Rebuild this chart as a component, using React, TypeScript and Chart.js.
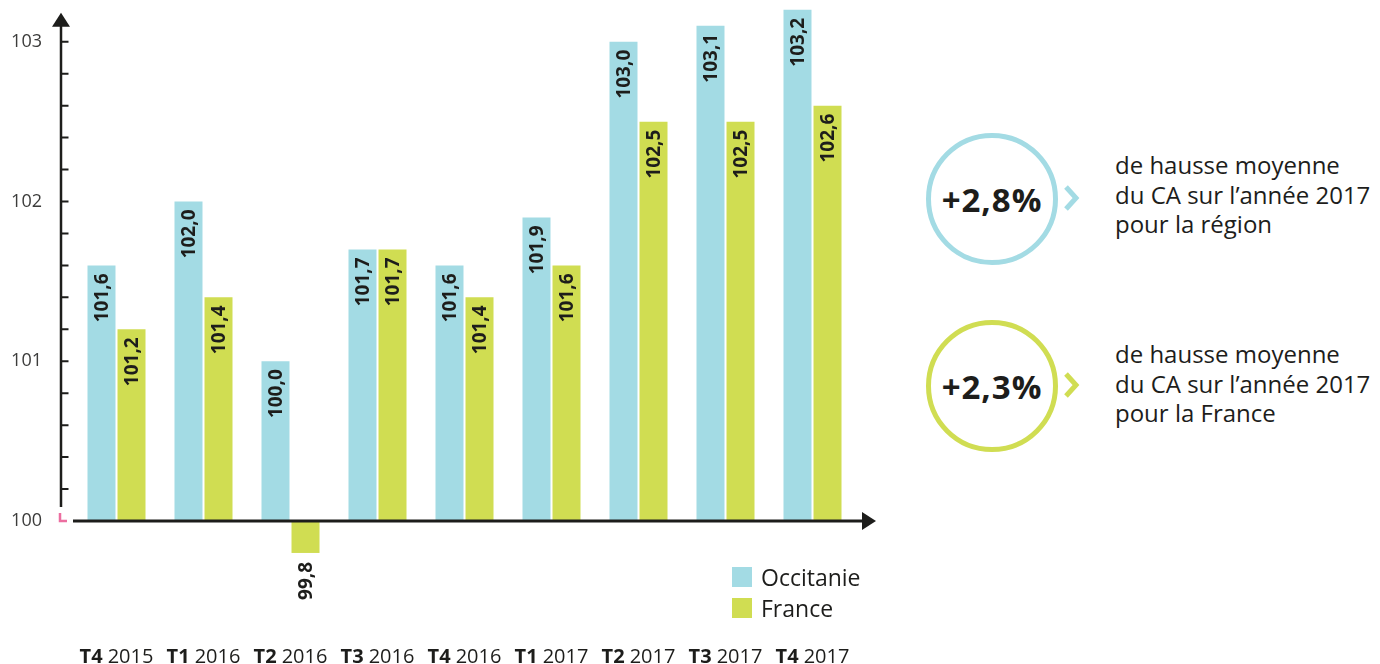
import React, { useEffect, useRef } from "react";
import { Chart, registerables } from "chart.js";

Chart.register(...registerables);

// ---------- data ----------
const quarters = ["T4", "T1", "T2", "T3", "T4", "T1", "T2", "T3", "T4"];
const years = ["2015", "2016", "2016", "2016", "2016", "2017", "2017", "2017", "2017"];
// bar heights as drawn in the picture
const occitanie = [101.6, 102.0, 101.0, 101.7, 101.6, 101.9, 103.0, 103.1, 103.2];
const france = [101.2, 101.4, 99.8, 101.7, 101.4, 101.6, 102.5, 102.5, 102.6];
// value labels as printed in the picture
const occitanieLabels = ["101,6", "102,0", "100,0", "101,7", "101,6", "101,9", "103,0", "103,1", "103,2"];
const franceLabels = ["101,2", "101,4", "99,8", "101,7", "101,4", "101,6", "102,5", "102,5", "102,6"];
const seriesNames = ["Occitanie", "France"];
const yTickLabels = [100, 101, 102, 103];
const yMinorStep = 0.2;
const baseValue = 100;
const yMin = 100;
const yMax = 103.2;
const highlightValues = ["+2,8%", "+2,3%"];
const highlightLine1 = ["de hausse moyenne", "de hausse moyenne"];
const highlightLine2 = ["du CA sur l’année 2017", "du CA sur l’année 2017"];
const highlightLine3 = ["pour la région", "pour la France"];

// ---------- style ----------
const BLUE = "#a3dbe4";
const GREEN = "#d0dd52";
const INK = "#1d1d1b";
const PINK = "#ec6ea0";
const FONT = "'Open Sans', sans-serif";
const seriesColors = [BLUE, GREEN];
const seriesLabels = [occitanieLabels, franceLabels];
const CANVAS_SHIFT = 32;

const axesPlugin = {
  id: "axesArrows",
  afterDatasetsDraw(chart: any) {
    const { ctx, chartArea, scales } = chart;
    const y = scales.y;
    const y0 = y.getPixelForValue(baseValue);
    const ax = chartArea.left - 12;
    ctx.save();
    ctx.strokeStyle = INK;
    ctx.fillStyle = INK;
    // vertical axis
    ctx.lineWidth = 2.5;
    ctx.beginPath();
    ctx.moveTo(ax, y0 - 14);
    ctx.lineTo(ax, chartArea.top + 14);
    ctx.stroke();
    ctx.beginPath();
    ctx.moveTo(ax, chartArea.top + 3);
    ctx.lineTo(ax - 9, chartArea.top + 17);
    ctx.lineTo(ax + 9, chartArea.top + 17);
    ctx.closePath();
    ctx.fill();
    // minor ticks
    ctx.lineWidth = 2;
    ctx.beginPath();
    y.ticks.forEach((t: any) => {
      if (t.value > baseValue + 1e-6 && t.value <= yTickLabels[yTickLabels.length - 1] + 1e-6) {
        const p = y.getPixelForValue(t.value);
        ctx.moveTo(ax, p);
        ctx.lineTo(ax + 7.5, p);
      }
    });
    ctx.stroke();
    // pink corner at origin
    ctx.strokeStyle = PINK;
    ctx.lineWidth = 2.5;
    ctx.beginPath();
    ctx.moveTo(ax - 1, y0 - 8);
    ctx.lineTo(ax - 1, y0);
    ctx.lineTo(ax + 6, y0);
    ctx.stroke();
    // horizontal axis
    ctx.strokeStyle = INK;
    ctx.lineWidth = 3;
    ctx.beginPath();
    ctx.moveTo(chartArea.left, y0);
    ctx.lineTo(chartArea.right + 8, y0);
    ctx.stroke();
    ctx.beginPath();
    ctx.moveTo(chartArea.right + 20, y0);
    ctx.lineTo(chartArea.right + 6, y0 - 9);
    ctx.lineTo(chartArea.right + 6, y0 + 9);
    ctx.closePath();
    ctx.fill();
    ctx.restore();
  },
};

const labelsPlugin = {
  id: "valueLabels",
  afterDatasetsDraw(chart: any) {
    const { ctx, scales } = chart;
    const y = scales.y;
    ctx.save();
    ctx.fillStyle = INK;
    ctx.font = `700 19px ${FONT}`;
    ctx.textAlign = "right";
    ctx.textBaseline = "middle";
    chart.data.datasets.forEach((ds: any, i: number) => {
      const meta = chart.getDatasetMeta(i);
      meta.data.forEach((el: any, j: number) => {
        const v = ds.data[j];
        const py = y.getPixelForValue(v);
        const anchor = v >= baseValue ? py + 8 : py + 9;
        ctx.save();
        ctx.translate(el.x + 1, anchor);
        ctx.rotate(-Math.PI / 2);
        ctx.fillText(seriesLabels[i][j], 0, 0);
        ctx.restore();
      });
    });
    ctx.restore();
  },
};

const xLabelsPlugin = {
  id: "xLabels",
  afterDraw(chart: any) {
    const { ctx, scales, chartArea } = chart;
    const x = scales.x;
    const baseY = chartArea.bottom + 142;
    ctx.save();
    ctx.fillStyle = INK;
    ctx.textBaseline = "alphabetic";
    ctx.textAlign = "left";
    quarters.forEach((q, i) => {
      const cx = x.getPixelForValue(i);
      ctx.font = `700 20px ${FONT}`;
      const w1 = ctx.measureText(q).width;
      ctx.font = `400 20px ${FONT}`;
      const gap = 5;
      const w2 = ctx.measureText(years[i]).width;
      const start = cx - (w1 + gap + w2) / 2;
      ctx.font = `700 20px ${FONT}`;
      ctx.fillText(q, start, baseY);
      ctx.font = `400 20px ${FONT}`;
      ctx.fillText(years[i], start + w1 + gap, baseY);
    });
    ctx.restore();
  },
};

function BarChart() {
  const ref = useRef<HTMLCanvasElement | null>(null);
  useEffect(() => {
    if (!ref.current) return;
    const chart = new Chart(ref.current, {
      type: "bar",
      data: {
        labels: quarters.map((q, i) => `${q} ${years[i]}`),
        datasets: [occitanie, france].map((d, i) => ({
          label: seriesNames[i],
          data: d,
          base: baseValue,
          clip: false,
          backgroundColor: seriesColors[i],
          borderWidth: 0,
          categoryPercentage: 0.69,
          barPercentage: 0.933,
        })),
      },
      options: {
        animation: false,
        responsive: false,
        devicePixelRatio: 1,
        layout: { padding: { left: 10, right: 44, top: 0, bottom: 143 } },
        plugins: { legend: { display: false }, tooltip: { enabled: false } },
        scales: {
          x: { type: "category", display: false, grid: { display: false } },
          y: {
            min: yMin,
            max: yMax,
            afterFit: (s: any) => {
              s.width = 63;
            },
            border: { display: false },
            grid: { display: false, drawTicks: false },
            ticks: {
              stepSize: yMinorStep,
              padding: 31,
              autoSkip: false,
              color: "#3c3c3b",
              font: { family: FONT, size: 18 },
              callback: (v: any) => {
                const r = Math.round(Number(v));
                return Math.abs(Number(v) - r) < 1e-6 && yTickLabels.includes(r) ? String(r) : "";
              },
            },
          },
        },
      },
      plugins: [axesPlugin, labelsPlugin, xLabelsPlugin],
    } as any);
    return () => chart.destroy();
  }, []);
  return (
    <canvas
      ref={ref}
      width={900}
      height={664 + CANVAS_SHIFT}
      style={{ width: 900, height: 664 + CANVAS_SHIFT, display: "block" }}
    />
  );
}

export default function App() {
  const circleTops = [133, 320];
  const textTops = [150, 339];
  const colors = [BLUE, GREEN];
  return (
    <div
      style={{
        position: "fixed",
        left: 0,
        top: 0,
        width: 1380,
        height: 664,
        background: "#fff",
        fontFamily: FONT,
        color: INK,
        overflow: "hidden",
      }}
    >
      <div style={{ position: "absolute", left: 0, top: -CANVAS_SHIFT }}>
        <BarChart />
      </div>
      {seriesNames.map((n, i) => (
        <div
          key={n}
          style={{
            position: "absolute",
            left: 732,
            top: 567 + i * 31,
            height: 20,
            display: "flex",
            alignItems: "center",
            whiteSpace: "nowrap",
          }}
        >
          <span style={{ display: "inline-block", width: 20, height: 20, background: seriesColors[i], marginRight: 9 }} />
          <span style={{ fontSize: 23, lineHeight: "20px" }}>{n}</span>
        </div>
      ))}
      {highlightValues.map((v, i) => (
        <React.Fragment key={v}>
          <div
            style={{
              position: "absolute",
              left: 926,
              top: circleTops[i],
              width: 132,
              height: 132,
              boxSizing: "border-box",
              border: `5px solid ${colors[i]}`,
              borderRadius: "50%",
              display: "flex",
              alignItems: "center",
              justifyContent: "center",
              fontWeight: 700,
              fontSize: 33,
              letterSpacing: 1,
              whiteSpace: "nowrap",
            }}
          >
            {v}
          </div>
          <svg
            width={22}
            height={30}
            style={{ position: "absolute", left: 1061, top: circleTops[i] + 66 - 16 }}
          >
            <polyline points="5,4 15,15 5,26" fill="none" stroke={colors[i]} strokeWidth={5} />
          </svg>
          <div
            style={{
              position: "absolute",
              left: 1115,
              top: textTops[i],
              fontSize: 24,
              lineHeight: "29.5px",
              whiteSpace: "nowrap",
            }}
          >
            <div>{highlightLine1[i]}</div>
            <div>{highlightLine2[i]}</div>
            <div>{highlightLine3[i]}</div>
          </div>
        </React.Fragment>
      ))}
    </div>
  );
}
